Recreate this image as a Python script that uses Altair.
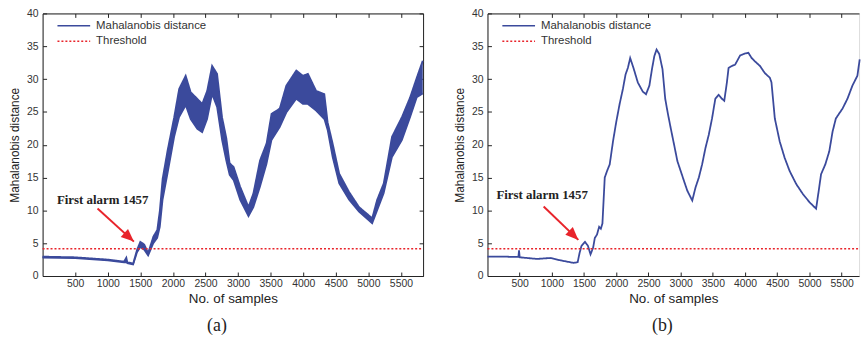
import math
import altair as alt
import pandas as pd

# ---------------- data ----------------
SERIES = ["Mahalanobis distance", "Threshold"]
THRESHOLD = 4.15
X_TICKS = [500, 1000, 1500, 2000, 2500, 3000, 3500, 4000, 4500, 5000, 5500]
Y_TICKS = [0, 5, 10, 15, 20, 25, 30, 35, 40]

# panel (a): upper / lower envelope of the oscillating distance
a_sample = [0, 500, 1000, 1250, 1285, 1300, 1390, 1450, 1500, 1560, 1620, 1700,
            1760, 1800, 1842, 1918, 2020, 2096, 2196, 2272, 2374, 2450, 2526,
            2602, 2678, 2754, 2820, 2870, 2932, 3032, 3160, 3236, 3337, 3438,
            3514, 3640, 3741, 3894, 3995, 4072, 4198, 4324, 4375, 4451, 4552,
            4704, 4856, 5059, 5135, 5236, 5363, 5515, 5641, 5743, 5835]
a_upper = [2.95, 2.85, 2.5, 2.2, 2.8, 2.1, 1.9, 4.0, 5.2, 4.8, 3.5, 6.0,
           7.0, 10.0, 14.8, 19.1, 24.2, 28.5, 30.5, 28.0, 27.0, 26.2, 28.2,
           32.0, 30.8, 24.2, 21.0, 17.2, 16.6, 13.6, 10.5, 12.6, 17.6, 20.2,
           24.7, 25.5, 29.0, 31.3, 30.5, 30.8, 28.2, 27.7, 23.4, 20.2, 15.6,
           12.8, 10.5, 8.8, 11.6, 14.1, 21.2, 24.2, 27.2, 30.2, 32.8]
a_lower = [2.8, 2.7, 2.35, 2.05, 2.1, 1.95, 1.75, 3.6, 4.4, 4.0, 3.1, 5.0,
           5.8, 7.5, 11.6, 15.6, 21.2, 24.2, 26.0, 23.9, 22.4, 21.9, 23.9,
           27.7, 25.7, 20.7, 17.5, 15.4, 14.6, 11.6, 9.1, 10.5, 13.6, 17.1,
           20.7, 22.7, 24.9, 27.0, 26.2, 26.2, 25.2, 23.9, 22.2, 18.1, 14.1,
           11.6, 9.8, 8.0, 10.0, 12.6, 18.1, 20.7, 24.2, 27.2, 27.8]

# panel (b): distance after smoothing
b_sample = [0, 250, 480, 490, 500, 769, 975, 1129, 1334, 1400, 1430, 1460,
            1514, 1560, 1600, 1640, 1667, 1700, 1734, 1760, 1785, 1821, 1857,
            1898, 1949, 2000, 2052, 2103, 2144, 2180, 2216, 2267, 2334, 2411,
            2462, 2514, 2554, 2591, 2626, 2668, 2718, 2760, 2800, 2846, 2898,
            2949, 3000, 3051, 3103, 3154, 3180, 3231, 3282, 3333, 3385, 3436,
            3487, 3538, 3590, 3641, 3677, 3718, 3744, 3795, 3846, 3923, 4000,
            4051, 4103, 4154, 4231, 4308, 4385, 4410, 4462, 4538, 4615, 4692,
            4795, 4897, 5000, 5103, 5144, 5180, 5246, 5308, 5359, 5410, 5513,
            5590, 5667, 5744, 5780]
b_value = [2.95, 2.95, 2.9, 3.9, 2.85, 2.6, 2.75, 2.4, 2.0, 2.1, 3.5, 4.6,
           5.2, 4.6, 3.3, 4.3, 5.8, 6.3, 7.5, 7.2, 8.0, 15.0, 16.0,
           17.0, 20.5, 23.5, 26.2, 28.5, 30.7, 31.7, 33.2, 31.7, 29.5, 28.1,
           27.7, 29.0, 31.5, 33.5, 34.5, 33.8, 31.5, 27.0, 24.8, 22.5, 20.0,
           17.5, 16.0, 14.5, 13.0, 12.0, 11.5, 13.5, 15.0, 17.0, 19.5, 21.5,
           24.0, 27.0, 27.6, 27.0, 26.7, 29.5, 31.7, 32.0, 32.2, 33.6, 33.9,
           34.0, 33.2, 32.7, 32.0, 30.9, 30.2, 29.5, 24.0, 20.5, 18.0, 16.0,
           14.0, 12.5, 11.25, 10.25, 13.0, 15.5, 17.0, 19.0, 22.0, 24.0, 25.5,
           27.0, 29.0, 30.5, 33.0]

# annotation "First alarm 1457": text position, arrow start, arrow tip
ann_text = ["First alarm 1457", "First alarm 1457"]
ann_tx = [922, 849]
ann_ty = [11.6, 12.4]
ann_x1 = [843, 872]
ann_y1 = [10.3, 10.6]
ann_x2 = [1401, 1411]
ann_y2 = [5.24, 5.5]
panel_tags = ["(a)", "(b)"]

# ---------------- style ----------------
BLUE = "#3b4a9c"
RED = "#e8242b"
FONT = "Liberation Sans"
SERIF = "Liberation Serif"
H = 265
W = [384, 375]
XMAX = [5840, 5770]
YMAX = 40
TAG_DX = [-16, -11]
TICK_C = "#222"
TICK_S = 4
HEAD = 13.0  # arrow head length in px

color_scale = alt.Scale(domain=SERIES, range=[BLUE, RED])
dash_scale = alt.Scale(domain=SERIES, range=[[1, 0], [2, 2]])


def legend():
    return alt.Legend(title=None, orient="none", legendX=25, legendY=6,
                      symbolType="M-3,0H3", symbolSize=121, symbolStrokeWidth=1.5,
                      labelFont=FONT, labelFontSize=11.5, labelColor="#333",
                      labelOffset=16, rowPadding=3.5, padding=0)


def make_panel(i, main_df, band):
    w, xmax = W[i], XMAX[i]
    xs = alt.Scale(domain=[0, xmax], nice=False, zero=False)
    ys = alt.Scale(domain=[0, YMAX], nice=False)

    ax_x_main = alt.Axis(orient="bottom", values=X_TICKS, format="d", ticks=False,
                         tickSize=0, domain=True, domainColor="#222", labelFont=FONT,
                         labelFontSize=10.5, labelColor="#333", labelPadding=3,
                         title="No. of samples", titleFont=FONT, titleFontSize=13.5,
                         titleFontWeight="normal", titleColor="#222", titlePadding=2,
                         grid=False)
    ax_y_main = alt.Axis(orient="left", values=Y_TICKS, format="d", ticks=False,
                         tickSize=0, domain=True, domainColor="#222", labelFont=FONT,
                         labelFontSize=10.5, labelColor="#333", labelPadding=4.5,
                         title="Mahalanobis distance", titleFont=FONT,
                         titleFontSize=12, titleFontWeight="normal",
                         titleColor="#222", titlePadding=5, grid=False)
    # inward ticks on bottom and left
    ax_x_in = alt.Axis(orient="top", offset=-H, values=X_TICKS, labels=False,
                       domain=False, ticks=True, tickSize=TICK_S, tickColor=TICK_C,
                       title=None, grid=False)
    ax_y_in = alt.Axis(orient="right", offset=-w, values=Y_TICKS, labels=False,
                       domain=False, ticks=True, tickSize=TICK_S, tickColor=TICK_C,
                       title=None, grid=False)
    # top border (and right border for panel a) with inward ticks
    ax_x_top = alt.Axis(orient="bottom", offset=-H, values=X_TICKS, labels=False,
                        domain=True, domainColor="#222", ticks=True, tickSize=TICK_S,
                        tickColor=TICK_C, title=None, grid=False)
    ax_y_right = alt.Axis(orient="left", offset=-w, values=Y_TICKS, labels=False,
                          domain=True, domainColor="#222", ticks=True, tickSize=TICK_S,
                          tickColor=TICK_C, title=None, grid=False)

    layers = []
    if band is not None:
        layers.append(alt.Chart(band).mark_area(color=BLUE, opacity=1).encode(
            x=alt.X("sample:Q", scale=xs, axis=ax_x_main),
            y=alt.Y("upper:Q", scale=ys, axis=ax_y_main),
            y2="lower:Q"))
        layers.append(alt.Chart(band).mark_line(color=BLUE, strokeWidth=1.6).encode(
            x=alt.X("sample:Q", scale=xs, axis=None),
            y=alt.Y("lower:Q", scale=ys, axis=None)))
        main_axes = (None, None)
    else:
        main_axes = (ax_x_main, ax_y_main)

    layers.append(alt.Chart(main_df).mark_line(strokeWidth=1.8).encode(
        x=alt.X("sample:Q", scale=xs, axis=main_axes[0]),
        y=alt.Y("value:Q", scale=ys, axis=main_axes[1]),
        color=alt.Color("series:N", scale=color_scale, legend=legend()),
        strokeDash=alt.StrokeDash("series:N", scale=dash_scale, legend=legend())))

    thr = pd.DataFrame({"sample": [0, xmax], "value": [THRESHOLD, THRESHOLD],
                        "series": [SERIES[1], SERIES[1]]})
    layers.append(alt.Chart(thr).mark_line(strokeWidth=1.5).encode(
        x=alt.X("sample:Q", scale=xs, axis=ax_x_in),
        y=alt.Y("value:Q", scale=ys, axis=ax_y_in),
        color=alt.Color("series:N", scale=color_scale, legend=legend()),
        strokeDash=alt.StrokeDash("series:N", scale=dash_scale, legend=legend())))

    # annotation: shaft as a rule between start and tip, head as a symbol at the tip
    dx_px = (ann_x2[i] - ann_x1[i]) * w / xmax
    dy_px = (ann_y1[i] - ann_y2[i]) * H / YMAX
    ang = math.degrees(math.atan2(dx_px, -dy_px)) % 360
    ann = pd.DataFrame({"tx": [ann_tx[i]], "ty": [ann_ty[i]], "label": [ann_text[i]],
                        "sx": [ann_x1[i]], "sy": [ann_y1[i]],
                        "tipx": [ann_x2[i]], "tipy": [ann_y2[i]]})
    layers.append(alt.Chart(ann).mark_text(font=SERIF, fontSize=13, fontWeight="bold",
                                           color="#222", align="center",
                                           baseline="middle").encode(
        x=alt.X("tx:Q", scale=xs, axis=ax_x_top),
        y=alt.Y("ty:Q", scale=ys, axis=ax_y_right if i == 0 else None),
        text="label:N"))
    layers.append(alt.Chart(ann).mark_rule(color=RED, strokeWidth=2, opacity=1).encode(
        x=alt.X("sx:Q", scale=xs, axis=None), y=alt.Y("sy:Q", scale=ys, axis=None),
        x2=alt.X2("tipx:Q"), y2=alt.Y2("tipy:Q")))
    layers.append(alt.Chart(ann).mark_point(shape="M0,0L-0.42,1L0.42,1Z",
                                            size=(2 * HEAD) ** 2,
                                            filled=True, color=RED, opacity=1,
                                            strokeWidth=0, angle=ang).encode(
        x=alt.X("tipx:Q", scale=xs, axis=None), y=alt.Y("tipy:Q", scale=ys, axis=None)))

    return alt.layer(*layers).resolve_axis(x="independent", y="independent").properties(
        width=w, height=H,
        title=alt.TitleParams(panel_tags[i], orient="bottom", anchor="middle",
                              dx=TAG_DX[i], offset=13, font=SERIF, fontSize=18,
                              fontWeight="normal", color="#222"))


df_a = pd.DataFrame({"sample": a_sample, "value": a_upper,
                     "series": [SERIES[0]] * len(a_sample)})
band_a = pd.DataFrame({"sample": a_sample, "upper": a_upper, "lower": a_lower})
df_b = pd.DataFrame({"sample": b_sample, "value": b_value,
                     "series": [SERIES[0]] * len(b_sample)})

pa = make_panel(0, df_a, band_a)
pb = make_panel(1, df_b, None)

chart = alt.hconcat(pa, pb, spacing=26).resolve_scale(
    color="independent", strokeDash="independent").resolve_legend(
    color="independent", strokeDash="independent").properties(
    padding={"left": 8, "top": 6, "right": 0, "bottom": 0}
).configure_view(stroke=None).configure(background="white")

chart.save("out.html", embed_options={"renderer": "svg", "actions": False})
